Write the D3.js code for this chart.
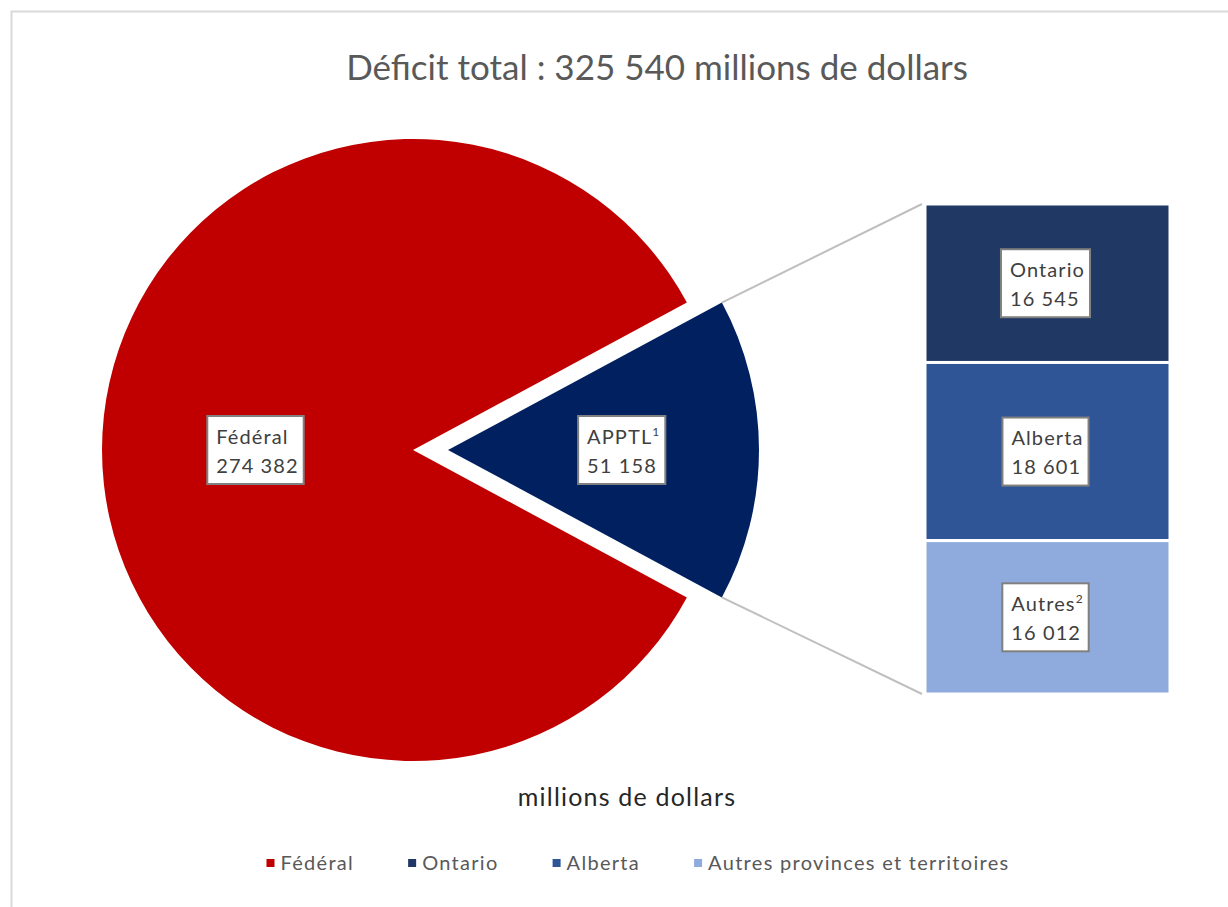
<!DOCTYPE html>
<html>
<head>
<meta charset="utf-8">
<script src="https://cdn.jsdelivr.net/npm/d3@7"></script>
<style>
  html, body { margin: 0; padding: 0; background: #ffffff; }
  svg { display: block; }
  text { font-family: Lato, "Open Sans", sans-serif; }
</style>
</head>
<body>
<svg id="chart" width="1228" height="907"></svg>
<script>
// Main pie: federal vs. provincial/territorial/local deficits (millions of dollars)
const pieCategories = ["Fédéral", "APPTL"];
const pieValues = [274382, 51158];
const pieLabels = ["Fédéral", "APPTL"];
const pieSuperscripts = ["", "1"];

// Breakdown of the APPTL slice shown in the stacked bar
const barCategories = ["Ontario", "Alberta", "Autres"];
const barValues = [16545, 18601, 16012];
const barSuperscripts = ["", "", "2"];

// Legend entries
const legendLabels = ["Fédéral", "Ontario", "Alberta", "Autres provinces et territoires"];

const titleText = "Déficit total : 325 540 millions de dollars";
const axisTitle = "millions de dollars";

const colors = {
  "Fédéral": "#C00000",
  "APPTL": "#002060",
  "Ontario": "#203864",
  "Alberta": "#2F5597",
  "Autres": "#8FAADC",
  "Autres provinces et territoires": "#8FAADC"
};

const fmt = v => d3.format(",")(v).replace(/,/g, " ");

const svg = d3.select("#chart");

// Chart area frame
svg.append("rect")
  .attr("x", 11.5).attr("y", 11.5)
  .attr("width", 1240).attr("height", 920)
  .attr("fill", "#ffffff")
  .attr("stroke", "#d9d9d9")
  .attr("stroke-width", 2);

// Title
svg.append("text")
  .attr("x", 657).attr("y", 80)
  .attr("text-anchor", "middle")
  .attr("font-size", 35)
  .attr("fill", "#595959")
  .text(titleText);

// ---- Pie ----
const radius = 311;
const pieCenter = { x: 413, y: 450 };
const explode = 35;

const total = d3.sum(pieValues);
const secondaryAngle = 2 * Math.PI * pieValues[1] / total;
const start = Math.PI / 2 + secondaryAngle / 2;

const pie = d3.pie().sort(null).value(d => d.value)
  .startAngle(start).endAngle(start + 2 * Math.PI);

const pieData = pie(pieCategories.map((c, i) => ({
  cat: c, value: pieValues[i], label: pieLabels[i], sup: pieSuperscripts[i]
})));

const arc = d3.arc().innerRadius(0).outerRadius(radius);

const offsetOf = d => {
  if (d.data.cat !== "APPTL") return [0, 0];
  const mid = (d.startAngle + d.endAngle) / 2;
  return [Math.sin(mid) * explode, -Math.cos(mid) * explode];
};

const pieG = svg.append("g");
pieG.selectAll("path")
  .data(pieData)
  .join("path")
  .attr("transform", d => {
    const o = offsetOf(d);
    return `translate(${pieCenter.x + o[0]},${pieCenter.y + o[1]})`;
  })
  .attr("d", arc)
  .attr("fill", d => colors[d.data.cat]);

// ---- Stacked bar of the APPTL breakdown ----
const barX = d3.scaleBand().domain(["APPTL"]).range([925, 1170]).padding(0);
const barY = d3.scaleLinear().domain([0, d3.sum(barValues)]).range([204, 694]);

let cum = 0;
const barData = barCategories.map((c, i) => {
  const d = { cat: c, value: barValues[i], sup: barSuperscripts[i], y0: cum, y1: cum + barValues[i] };
  cum += barValues[i];
  return d;
});

svg.append("g").selectAll("rect")
  .data(barData)
  .join("rect")
  .attr("x", barX("APPTL"))
  .attr("width", barX.bandwidth())
  .attr("y", d => barY(d.y0))
  .attr("height", d => barY(d.y1) - barY(d.y0))
  .attr("fill", d => colors[d.cat])
  .attr("stroke", "#ffffff")
  .attr("stroke-width", 3);

// Connector lines from the APPTL slice to the bar
const apptl = pieData[1];
const ao = offsetOf(apptl);
const ptAt = a => [pieCenter.x + ao[0] + Math.sin(a) * radius, pieCenter.y + ao[1] - Math.cos(a) * radius];
const pTop = ptAt(apptl.startAngle);
const pBot = ptAt(apptl.endAngle);
svg.append("g").selectAll("line")
  .data([[pTop, [barX("APPTL") - 3, barY(0)]], [pBot, [barX("APPTL") - 3, barY(d3.sum(barValues))]]])
  .join("line")
  .attr("x1", d => d[0][0]).attr("y1", d => d[0][1])
  .attr("x2", d => d[1][0]).attr("y2", d => d[1][1])
  .attr("stroke", "#bfbfbf")
  .attr("stroke-width", 2);

// ---- Data labels (white boxes) ----
function drawLabel(cx, cy, name, sup, value) {
  const g = svg.append("g");
  const lineH = 29;
  const t1 = g.append("text")
    .attr("y", cy - lineH / 2 + 8)
    .attr("font-size", 20)
    .attr("letter-spacing", 1.1)
    .attr("fill", "#404040");
  t1.append("tspan").text(name);
  if (sup) t1.append("tspan").attr("dy", -8).attr("font-size", 12).text(sup);
  const t2 = g.append("text")
    .attr("y", cy + lineH / 2 + 8)
    .attr("font-size", 20)
    .attr("letter-spacing", 1.1)
    .attr("fill", "#404040")
    .text(fmt(value));
  const w = Math.max(t1.node().getComputedTextLength(), t2.node().getComputedTextLength());
  const padL = 9, padR = 5;
  const left = cx - w / 2;
  t1.attr("x", left);
  t2.attr("x", left);
  g.insert("rect", "text")
    .attr("x", left - padL).attr("y", cy - 34)
    .attr("width", w + padL + padR).attr("height", 68)
    .attr("fill", "#ffffff")
    .attr("stroke", "#808080")
    .attr("stroke-width", 2);
}

pieData.forEach(d => {
  const o = offsetOf(d);
  const f = d.data.cat === "APPTL" ? 0.565 : 0.5;
  const la = d3.arc().innerRadius(0).outerRadius(radius * f * 2);
  const c = la.centroid(d);
  drawLabel(pieCenter.x + o[0] + c[0], pieCenter.y + o[1] + c[1], d.data.label, d.data.sup, d.data.value);
});

barData.forEach(d => {
  drawLabel(barX("APPTL") + barX.bandwidth() / 2, (barY(d.y0) + barY(d.y1)) / 2, d.cat, d.sup, d.value);
});

// Axis title under the pie
svg.append("text")
  .attr("x", 627).attr("y", 806)
  .attr("text-anchor", "middle")
  .attr("font-size", 25)
  .attr("letter-spacing", 1.2)
  .attr("fill", "#262626")
  .text(axisTitle);

// ---- Legend ----
const legendG = svg.append("g").attr("transform", "translate(0,863)");
const items = legendG.selectAll("g")
  .data(legendLabels)
  .join("g");
items.append("rect")
  .attr("width", 8).attr("height", 8)
  .attr("y", -4)
  .attr("fill", d => colors[d]);
items.append("text")
  .attr("x", 14).attr("y", 7)
  .attr("font-size", 20)
  .attr("letter-spacing", 1.3)
  .attr("fill", "#595959")
  .text(d => d);
const gap = 54;
const widths = [];
items.each(function () { widths.push(this.getBBox().width); });
const totalW = d3.sum(widths) + gap * (widths.length - 1);
let lx = 638 - totalW / 2;
items.attr("transform", (d, i) => {
  const x = lx;
  lx += widths[i] + gap;
  return `translate(${x},0)`;
});
</script>
</body>
</html>
